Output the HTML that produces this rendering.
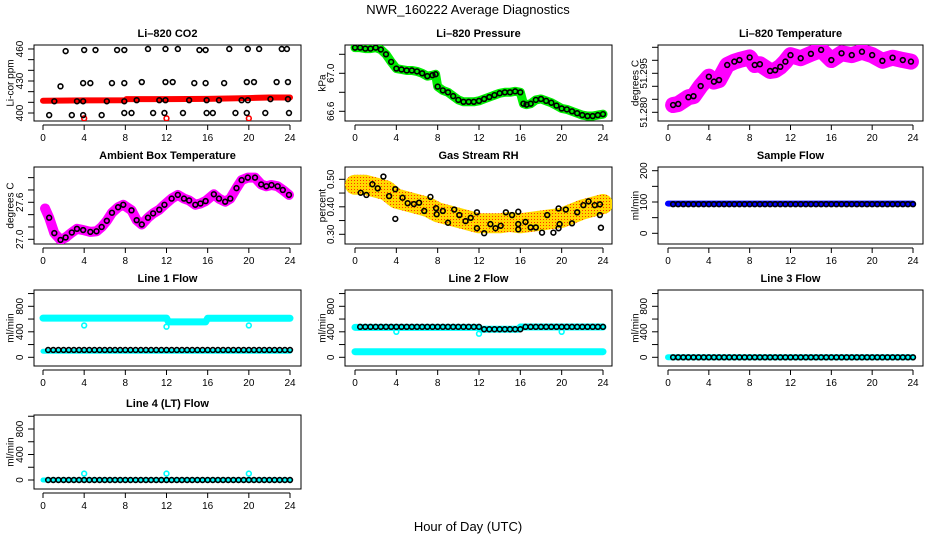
<!DOCTYPE html>
<html><head><meta charset="utf-8"><style>
html,body{margin:0;padding:0;background:#fff;}
svg{display:block;font-family:"Liberation Sans",sans-serif;}
</style></head><body>
<svg id="chart" width="936" height="540" viewBox="0 0 936 540" xmlns="http://www.w3.org/2000/svg">
<defs>
<pattern id="rhdots" width="3" height="3" patternUnits="userSpaceOnUse">
<rect width="3" height="3" fill="#ffd800"/><rect x="0" y="0" width="1" height="1" fill="#ff3000"/>
</pattern>
</defs>
<text x="468" y="14" text-anchor="middle" font-size="13">NWR_160222  Average Diagnostics</text>
<text x="468" y="531" text-anchor="middle" font-size="13">Hour of Day (UTC)</text>
</svg>
<script>
// ---------- data ----------
const xTicks = [0,4,8,12,16,20,24];
const halfHours = [0.5,1,1.5,2,2.5,3,3.5,4,4.5,5,5.5,6,6.5,7,7.5,8,8.5,9,9.5,10,10.5,11,11.5,12,12.5,13,13.5,14,14.5,15,15.5,16,16.5,17,17.5,18,18.5,19,19.5,20,20.5,21,21.5,22,22.5,23,23.5,24];

const co2Hours = [2.2,4.0,5.1,7.2,7.9,10.2,11.9,13.1,15.2,15.8,18.1,19.9,21.0,23.2,23.7, 1.7,3.9,4.6,6.7,7.9,9.6,11.9,12.6,14.7,15.8,17.6,19.8,20.5,22.7,23.8, 1.1,3.3,3.9,6.2,7.9,9.1,11.3,11.9,14.2,15.9,17.1,19.3,19.9,22.1,23.8, 0.6,2.8,3.9,5.7,7.9,8.6,10.7,11.8,13.6,15.9,16.5,18.7,19.8,21.6,23.9];
const co2Values = [458,459,459,459,459,460,460,460,459,459,460,460,460,460,460, 425,428,428,428,428,429,429,429,428,428,428,429,429,429,429, 411,411,411,411,411,412,412,412,412,412,412,412,412,413,413, 398,398,398,398,400,400,400,400,400,400,400,400,400,400,400];
const co2RedHours = [0,4,8,8.1,12,16,20,22,24];
const co2RedValues = [411.5,411.8,412,413,413,413.2,414,414.5,414.5];
const co2OutHours = [4,12,20];
const co2OutValues = [395,395,395];

const presHours = [0,0.5,1,1.5,2,2.5,3,3.5,4,4.5,5,5.5,6,6.5,7,7.5,7.8,8,8.5,9,9.5,10,10.5,11,11.5,12,12.5,13,13.5,14,14.5,15,15.5,16,16.3,16.6,17,17.5,18,18.5,19,19.5,20,20.5,21,21.5,22,22.5,23,23.5,24];
const presValues = [67.27,67.27,67.26,67.26,67.27,67.25,67.2,67.12,67.05,67.04,67.03,67.03,67.02,67.0,66.97,66.98,66.99,66.86,66.82,66.8,66.76,66.72,66.7,66.7,66.7,66.71,66.73,66.75,66.77,66.79,66.8,66.8,66.81,66.8,66.68,66.67,66.68,66.72,66.73,66.71,66.69,66.66,66.63,66.62,66.6,66.58,66.56,66.55,66.55,66.56,66.57];

const tempHours = [0.5,1,2,2.5,3.2,4,4.5,5,5.8,6.5,7,8,8.5,9,10,10.5,11,11.5,12,13,14,15,16,17,18,19,20,21,22,23,23.8];
const tempValues = [51.2828,51.2832,51.2858,51.2862,51.2901,51.2937,51.2918,51.2924,51.2982,51.2995,51.3001,51.3011,51.2982,51.2985,51.2959,51.2962,51.2975,51.2995,51.302,51.3008,51.3025,51.304,51.3001,51.3027,51.302,51.3033,51.302,51.2998,51.301,51.3001,51.2995];

const ambHours = [0.6,1.1,1.7,2.2,2.8,3.3,3.9,4.6,5.2,5.7,6.2,6.7,7.3,7.8,8.6,9.1,9.6,10.2,10.7,11.3,11.8,12.5,13.1,13.7,14.2,14.8,15.3,15.8,16.6,17.1,17.7,18.2,18.8,19.3,19.9,20.6,21.2,21.7,22.2,22.8,23.3,23.9];
const ambValues = [27.35,27.10,26.99,27.03,27.11,27.17,27.15,27.12,27.13,27.2,27.3,27.43,27.52,27.56,27.47,27.31,27.24,27.35,27.42,27.48,27.56,27.66,27.72,27.66,27.63,27.56,27.58,27.62,27.73,27.66,27.61,27.66,27.83,27.96,28.0,28.0,27.89,27.86,27.88,27.86,27.80,27.72];

const rhBandHours = [0,1,2,3,4,5,6,7,8,9,10,11,12,13,14,15,16,17,18,19,20,21,22,23,24];
const rhBandValues = [0.48,0.48,0.47,0.46,0.43,0.42,0.41,0.40,0.38,0.37,0.36,0.35,0.34,0.34,0.34,0.345,0.34,0.345,0.35,0.355,0.36,0.375,0.39,0.40,0.41];
const rhHours = [0.55,1.1,1.68,2.2,2.75,3.3,3.9,3.9,4.6,5.1,5.7,6.2,6.7,7.3,7.85,7.9,8.5,9.0,9.6,10.1,10.7,11.2,11.8,11.8,12.5,13.1,13.6,14.1,14.6,15.2,15.8,15.8,15.8,16.5,17.0,17.5,18.1,18.6,19.2,19.7,19.8,19.7,20.4,21.0,21.5,22.1,22.6,23.2,23.7,23.7,23.8];
const rhValues = [0.451,0.443,0.482,0.467,0.51,0.439,0.464,0.356,0.433,0.413,0.41,0.415,0.385,0.436,0.395,0.373,0.385,0.342,0.39,0.37,0.348,0.36,0.38,0.322,0.304,0.337,0.322,0.331,0.38,0.37,0.382,0.337,0.318,0.345,0.325,0.325,0.306,0.37,0.306,0.394,0.337,0.322,0.39,0.34,0.38,0.406,0.42,0.406,0.409,0.37,0.324];

const sampleBandHours = [0,24];
const sampleBandValues = [95,95];
const sampleValues = [93,93,93,93,93,93,93,93,93,93,93,93,93,93,93,93,93,93,93,93,93,93,93,93,93,93,93,93,93,93,93,93,93,93,93,93,93,93,93,93,93,93,93,93,93,93,93,93];

const line1BandHours = [0,12,12.2,15.8,16,24];
const line1BandValues = [615,615,555,555,612,612];
const line1OutHours = [4,12,20];
const line1OutValues = [500,480,500];
const line1LowHours = [0,24];
const line1LowValues = [95,95];
const line1Values = [115,115,115,115,115,115,115,115,115,115,115,115,115,115,115,115,115,115,115,115,115,115,115,115,115,115,115,115,115,115,115,115,115,115,115,115,115,115,115,115,115,115,115,115,115,115,115,115];

const line2BandHours = [0,12,12.2,15.8,16,24];
const line2BandValues = [470,470,440,440,475,475];
const line2OutHours = [4,12,20];
const line2OutValues = [400,370,400];
const line2LowHours = [0,24];
const line2LowValues = [88,88];
const line2Values = [478,478,478,478,478,478,478,478,478,478,478,478,478,478,478,478,478,478,478,478,478,478,478,478,440,440,440,440,440,440,440,440,478,478,478,478,478,478,478,478,478,478,478,478,478,478,478,478];

const line3BandHours = [0,24];
const line3BandValues = [0,0];
const line3Values = [0,0,0,0,0,0,0,0,0,0,0,0,0,0,0,0,0,0,0,0,0,0,0,0,0,0,0,0,0,0,0,0,0,0,0,0,0,0,0,0,0,0,0,0,0,0,0,0];

const line4BandHours = [0,24];
const line4BandValues = [0,0];
const line4OutHours = [4,12,20];
const line4OutValues = [100,100,100];
const line4Values = [0,0,0,0,0,0,0,0,0,0,0,0,0,0,0,0,0,0,0,0,0,0,0,0,0,0,0,0,0,0,0,0,0,0,0,0,0,0,0,0,0,0,0,0,0,0,0,0];

// ---------- drawing ----------
const svg = document.getElementById('chart');
const NS = 'http://www.w3.org/2000/svg';
function mk(tag, attrs, parent){
  const e = document.createElementNS(NS, tag);
  for (const k in attrs) e.setAttribute(k, attrs[k]);
  (parent||svg).appendChild(e);
  return e;
}
const cols = [{l:34,r:301,x0:43,x24:290,yt:10},{l:345,r:612,x0:355,x24:603,yt:322},{l:658,r:923,x0:668,x24:913,yt:635}];
const rows = [{t:45,b:121},{t:167,b:244},{t:290,b:366},{t:415,b:489}];

function panel(name, title, ci, ri, yTitle, refV, refPx, ppu, yTicks, yLabels){
  const c = cols[ci], r = rows[ri];
  const g = mk('g', {});
  
  
  const sx = h => c.x0 + h*(c.x24-c.x0)/24;
  const sy = v => refPx - (v-refV)*ppu;
  const t = mk('text', {x:(c.l+c.r)/2, y:r.t-8, 'text-anchor':'middle', 'font-size':11, 'font-weight':'bold'}, g);
  t.textContent = title;
  
  
  const yt = mk('text', {x:c.yt, y:(r.t+r.b)/2, 'text-anchor':'middle', 'font-size':10, transform:`rotate(-90 ${c.yt} ${(r.t+r.b)/2})`, dy:'0.35em'}, g);
  yt.textContent = yTitle;
  
  
  const ax = mk('g', {stroke:'#000','stroke-width':1}, g);
  
  
  mk('line', {x1:sx(0), x2:sx(24), y1:r.b+4, y2:r.b+4}, ax);
  xTicks.forEach(v => {
    mk('line', {x1:sx(v), x2:sx(v), y1:r.b+4, y2:r.b+9}, ax);
    const tl = mk('text', {x:sx(v), y:r.b+20, 'text-anchor':'middle', 'font-size':10, stroke:'none'}, ax);
    tl.textContent = v;
  });
  const ay = mk('g', {stroke:'#000','stroke-width':1}, g);
  
  
  yTicks.forEach(v => mk('line', {x1:c.l-6, x2:c.l, y1:sy(v), y2:sy(v)}, ay));
  yLabels.forEach(v => {
    const lx = c.l-11;
    const tl = mk('text', {x:lx, y:sy(v), 'text-anchor':'middle', 'font-size':10, stroke:'none', transform:`rotate(-90 ${lx} ${sy(v)})`}, ay);
    tl.textContent = v;
  });
  const box = mk('rect', {x:c.l, y:r.t, width:c.r-c.l, height:r.b-r.t, fill:'none', stroke:'#000', 'stroke-width':1}, g);
  
  
  const clip = 'clip'+name;
  const cp = mk('clipPath', {id:clip}, g);
  mk('rect', {x:c.l, y:r.t, width:c.r-c.l, height:r.b-r.t}, cp);
  const pg = mk('g', {'clip-path':`url(#${clip})`}, g);
  return {sx, sy, g:pg};
}
function band(p, hs, vs, color, w, nm){
  const pl = mk('polyline', {points: hs.map((h,i)=>p.sx(h)+','+p.sy(vs[i])).join(' '), fill:'none', stroke:color, 'stroke-width':w, 'stroke-linejoin':'round', 'stroke-linecap':'round'}, p.g);
  
  
}
function pts(p, hs, vs, color, nm, r){
  const gg = mk('g', {fill:'none', stroke:color, 'stroke-width':1.6}, p.g);
  
  
  hs.forEach((h,i) => {
    const c = mk('circle', {cx:p.sx(h), cy:p.sy(vs[i]), r:r||2.4}, gg);
    
    
  });
}

let p;
p = panel('co2-panel','Li\u2013820 CO2',0,0,'Li-cor ppm',400,113,1.067,[400,410,420,430,440,450,460],[400,430,460]);
band(p, co2RedHours, co2RedValues, '#ff0000', 6, 'co2-raw-band');
pts(p, co2OutHours, co2OutValues, '#ff0000', 'co2-raw-outliers');
pts(p, co2Hours, co2Values, '#000', 'co2-averages');

p = panel('pressure-panel','Li\u2013820 Pressure',1,0,'kPa',67.0,73.3,95,[66.6,66.8,67.0,67.2],['66.6','67.0']);
band(p, presHours, presValues, '#00ee00', 9, 'pressure-raw-band');
pts(p, presHours, presValues, '#000', 'pressure-averages');

p = panel('temp-panel','Li\u2013820 Temperature',2,0,'degrees C',51.280,112.3,2600,[51.280,51.285,51.290,51.295,51.300,51.305],['51.280','51.295']);
band(p, tempHours, tempValues, '#ff00ff', 16, 'temp-raw-band');
pts(p, tempHours, tempValues, '#000', 'temp-averages');

p = panel('ambient-panel','Ambient Box Temperature',0,1,'degrees C',27.0,239.3,61.67,[27.0,27.2,27.4,27.6,27.8,28.0],['27.0','27.6']);
band(p, [0.2].concat(ambHours), [27.5].concat(ambValues), '#ff00ff', 10, 'ambient-raw-band');
pts(p, ambHours, ambValues, '#000', 'ambient-averages');

p = panel('rh-panel','Gas Stream RH',1,1,'percent',0.30,234.3,275,[0.30,0.35,0.40,0.45,0.50],['0.30','0.40','0.50']);
band(p, rhBandHours, rhBandValues, 'url(#rhdots)', 20, 'rh-raw-band');
pts(p, rhHours, rhValues, '#000', 'rh-averages');

p = panel('sample-flow-panel','Sample Flow',2,1,'ml/min',0,233.3,0.313,[0,50,100,150,200],[0,100,200]);
band(p, sampleBandHours, sampleBandValues, '#0000ff', 6, 'sample-raw-band');
pts(p, halfHours, sampleValues, '#000', 'sample-averages');

p = panel('line1-panel','Line 1 Flow',0,2,'ml/min',0,357.3,0.06375,[0,200,400,600,800,1000],[0,400,800]);
band(p, line1BandHours, line1BandValues, '#00ffff', 7, 'line1-raw-band');
band(p, line1LowHours, line1LowValues, '#00ffff', 5, 'line1-low-band');
pts(p, line1OutHours, line1OutValues, '#00ffff', 'line1-outliers');
pts(p, halfHours, line1Values, '#000', 'line1-averages');

p = panel('line2-panel','Line 2 Flow',1,2,'ml/min',0,357.3,0.06375,[0,200,400,600,800,1000],[0,400,800]);
band(p, line2BandHours, line2BandValues, '#00ffff', 7, 'line2-raw-band');
band(p, line2LowHours, line2LowValues, '#00ffff', 7, 'line2-low-band');
pts(p, line2OutHours, line2OutValues, '#00ffff', 'line2-outliers');
pts(p, halfHours, line2Values, '#000', 'line2-averages');

p = panel('line3-panel','Line 3 Flow',2,2,'ml/min',0,357.3,0.06375,[0,200,400,600,800,1000],[0,400,800]);
band(p, line3BandHours, line3BandValues, '#00ffff', 6, 'line3-raw-band');
pts(p, halfHours, line3Values, '#000', 'line3-averages');

p = panel('line4-panel','Line 4 (LT) Flow',0,3,'ml/min',0,480,0.06375,[0,200,400,600,800,1000],[0,400,800]);
band(p, line4BandHours, line4BandValues, '#00ffff', 5, 'line4-raw-band');
pts(p, line4OutHours, line4OutValues, '#00ffff', 'line4-outliers');
pts(p, halfHours, line4Values, '#000', 'line4-averages');
</script>
</body></html>
